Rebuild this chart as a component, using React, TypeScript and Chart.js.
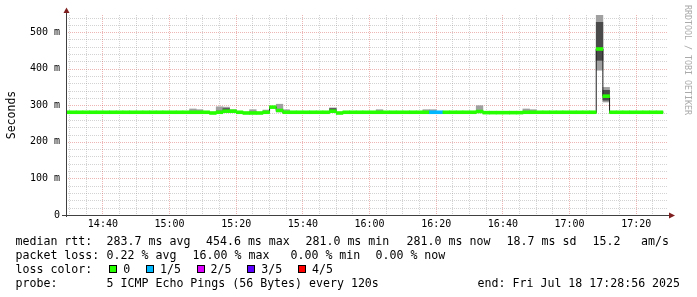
import React, { useEffect, useRef } from "react";
import { Chart, registerables } from "chart.js";

Chart.register(...registerables);

// ---------- data ----------
// end time of each 120 s SmokePing interval
const intervalEnds = [
  "14:30", "14:32", "14:34", "14:36", "14:38", "14:40", "14:42", "14:44", "14:46", "14:48",
  "14:50", "14:52", "14:54", "14:56", "14:58", "15:00", "15:02", "15:04", "15:06", "15:08",
  "15:10", "15:12", "15:14", "15:16", "15:18", "15:20", "15:22", "15:24", "15:26", "15:28",
  "15:30", "15:32", "15:34", "15:36", "15:38", "15:40", "15:42", "15:44", "15:46", "15:48",
  "15:50", "15:52", "15:54", "15:56", "15:58", "16:00", "16:02", "16:04", "16:06", "16:08",
  "16:10", "16:12", "16:14", "16:16", "16:18", "16:20", "16:22", "16:24", "16:26", "16:28",
  "16:30", "16:32", "16:34", "16:36", "16:38", "16:40", "16:42", "16:44", "16:46", "16:48",
  "16:50", "16:52", "16:54", "16:56", "16:58", "17:00", "17:02", "17:04", "17:06", "17:08",
  "17:10", "17:12", "17:14", "17:16", "17:18", "17:20", "17:22", "17:24", "17:26", "17:28",
];

// sorted pings (ms): ping1 = fastest ... ping5 = slowest, medianRtt = middle ping
const ping1 = [
  279, 279, 279, 279, 279, 279, 279, 279, 279, 279,
  279, 279, 279, 279, 279, 279, 279, 279, 279, 279,
  279, 279, 277, 279, 281, 281, 279, 277, 277, 277,
  279, 292, 282, 279, 279, 279, 279, 279, 279, 279,
  281, 277, 279, 279, 279, 279, 279, 279, 279, 279,
  279, 279, 279, 279, 279, 279, 279, 279, 279, 279,
  279, 279, 280, 278, 278, 278, 278, 278, 278, 279,
  279, 279, 279, 279, 279, 279, 279, 279, 279, 279,
  396, 309, 279, 279, 279, 279, 279, 279, 279, 279,
];
const ping2 = [
  280, 280, 280, 280, 280, 280, 280, 280, 280, 280,
  280, 280, 280, 280, 280, 280, 280, 280, 280, 280,
  280, 280, 278, 280, 282, 282, 280, 278, 278, 278,
  280, 294, 284, 280, 280, 280, 280, 280, 280, 280,
  283, 278, 280, 280, 280, 280, 280, 280, 280, 280,
  280, 280, 280, 280, 280, 280, 280, 280, 280, 280,
  280, 280, 281, 279, 279, 279, 279, 279, 279, 280,
  280, 280, 280, 280, 280, 280, 280, 280, 280, 280,
  423, 314, 280, 280, 280, 280, 280, 280, 280, 280,
];
const medianRtt = [
  281, 281, 281, 281, 281, 281, 281, 281, 281, 281,
  281, 281, 281, 281, 281, 281, 281, 281, 281, 281,
  281, 281, 279, 281, 284, 284, 281, 279, 279, 279,
  281, 295, 286, 281, 281, 281, 281, 281, 281, 281,
  284, 279, 281, 281, 281, 281, 281, 281, 281, 281,
  281, 281, 281, 281, 281, 281, 281, 281, 281, 281,
  281, 281, 283, 280, 280, 280, 280, 280, 280, 281,
  281, 281, 281, 281, 281, 281, 281, 281, 281, 281,
  454, 325, 281, 281, 281, 281, 281, 281, 281, 281,
];
const ping4 = [
  282, 282, 282, 282, 282, 282, 282, 282, 282, 282,
  282, 282, 282, 282, 282, 282, 282, 282, 282, 283,
  283, 281, 280, 284, 291, 286, 282, 280, 281, 280,
  282, 296, 288, 282, 282, 282, 282, 282, 282, 282,
  291, 280, 282, 282, 282, 282, 282, 282, 282, 282,
  282, 282, 282, 282, 282, 282, 282, 282, 282, 282,
  282, 282, 286, 281, 281, 281, 281, 281, 281, 283,
  282, 282, 282, 282, 282, 282, 282, 282, 282, 282,
  527, 341, 282, 282, 282, 282, 282, 282, 282, 282,
];
const ping5 = [
  283, 282, 283, 282, 282, 283, 282, 283, 282, 282,
  282, 283, 282, 282, 283, 282, 282, 283, 282, 290,
  288, 282, 281, 296, 295, 288, 283, 281, 288, 281,
  287, 297, 303, 288, 282, 283, 282, 282, 283, 282,
  293, 281, 282, 283, 282, 282, 282, 288, 282, 283,
  282, 282, 283, 282, 288, 288, 283, 282, 282, 282,
  283, 282, 299, 282, 282, 281, 282, 281, 282, 290,
  288, 282, 283, 282, 282, 282, 283, 282, 282, 282,
  547, 349, 282, 283, 282, 282, 283, 282, 282, 283,
];
// number of lost pings (of 5) per interval
const lossCount = [
  0, 0, 0, 0, 0, 0, 0, 0, 0, 0,
  0, 0, 0, 0, 0, 0, 0, 0, 0, 0,
  0, 0, 0, 0, 0, 0, 0, 0, 0, 0,
  0, 0, 0, 0, 0, 0, 0, 0, 0, 0,
  0, 0, 0, 0, 0, 0, 0, 0, 0, 0,
  0, 0, 0, 0, 0, 1, 1, 0, 0, 0,
  0, 0, 0, 0, 0, 0, 0, 0, 0, 0,
  0, 0, 0, 0, 0, 0, 0, 0, 0, 0,
  0, 0, 0, 0, 0, 0, 0, 0, 0, 0,
];

const rangeStart = "14:28:56";
const rangeEnd = "17:28:56";
const xTickLabels = ["14:40", "15:00", "15:20", "15:40", "16:00", "16:20", "16:40", "17:00", "17:20"];
const yTickValues = [0, 100, 200, 300, 400, 500];
const yTickLabels = ["0", "100 m", "200 m", "300 m", "400 m", "500 m"];
const yTitle = "Seconds";

const lossLevelLabels = ["0", "1/5", "2/5", "3/5", "4/5"];
const lossLevelColors = ["#26ff00", "#00b8ff", "#dd00ff", "#5e00ff", "#ff0000"];

const rttTexts = ["median rtt:", "283.7 ms avg", "454.6 ms max", "281.0 ms min", "281.0 ms now", "18.7 ms sd", "15.2", "am/s"];
const lossTexts = ["packet loss:", "0.22 % avg", "16.00 % max", "0.00 % min", "0.00 % now"];
const lossColorTitle = "loss color:";
const probeTexts = ["probe:", "5 ICMP Echo Pings (56 Bytes) every 120s", "end: Fri Jul 18 17:28:56 2025"];
const watermark = "RRDTOOL / TOBI OETIKER";

// ---------- layout / style ----------
const W = 697;
const H = 297;
const STEP_MIN = 2;
const BAND_HALF = 4; // half height (ms) of the loss-coloured median band
const MONO = '"DejaVu Sans Mono"';
const rttX = [15.5, 106.6, 206, 305.5, 406.6, 506.6, 592.6, 641];
const lossX = [15.5, 106.6, 192.6, 290.5, 375.5];
const swatchX = [109, 146, 197, 247, 298];
const swatchLabelX = [123.3, 160, 210.6, 261.3, 312];
const probeX = [15.5, 106.6, 477.6];
const lineBaselines = [244.5, 258.5, 272.5, 286.5];

const toMinutes = (t: string) => {
  const [h, m, s = "0"] = t.split(":");
  return Number(h) * 60 + Number(m) + Number(s) / 60;
};

const rrdPlugin = {
  id: "rrdDecor",
  beforeDatasetsDraw(chart: any) {
    const { ctx, chartArea: a, scales } = chart;
    const x = scales.x;
    const y = scales.y;
    ctx.save();
    ctx.lineWidth = 1;
    ctx.setLineDash([1, 1]);
    const minor = "rgba(140,140,140,0.38)";
    const major = "rgba(210,60,60,0.38)";
    // horizontal grid every 20 ms, major every 100 ms
    for (let v = 20; v <= y.max; v += 20) {
      const py = Math.round(y.getPixelForValue(v)) + 0.5;
      ctx.strokeStyle = v % 100 === 0 ? major : minor;
      ctx.beginPath();
      ctx.moveTo(a.left, py);
      ctx.lineTo(a.right + 2, py);
      ctx.stroke();
    }
    // vertical grid every 5 min, major every 20 min
    for (let m = Math.ceil(x.min / 5) * 5; m <= x.max; m += 5) {
      const px = Math.floor(x.getPixelForValue(m)) + 0.5;
      ctx.strokeStyle = m % 20 === 0 ? major : minor;
      ctx.beginPath();
      ctx.moveTo(px, a.top);
      ctx.lineTo(px, a.bottom);
      ctx.stroke();
    }
    ctx.restore();
  },
  afterDatasetsDraw(chart: any) {
    const { ctx, chartArea: a } = chart;
    ctx.save();
    ctx.strokeStyle = "#404040";
    ctx.lineWidth = 1;
    ctx.beginPath();
    ctx.moveTo(a.left - 4, a.bottom + 0.5);
    ctx.lineTo(a.right + 4, a.bottom + 0.5);
    ctx.moveTo(a.left + 0.5, a.bottom + 2);
    ctx.lineTo(a.left + 0.5, a.top - 2);
    ctx.stroke();
    ctx.fillStyle = "#7f1f1f";
    ctx.beginPath();
    ctx.moveTo(a.left + 0.5, a.top - 7.5);
    ctx.lineTo(a.left - 2.5, a.top - 2);
    ctx.lineTo(a.left + 3.5, a.top - 2);
    ctx.closePath();
    ctx.fill();
    ctx.beginPath();
    ctx.moveTo(a.right + 9, a.bottom + 0.5);
    ctx.lineTo(a.right + 3, a.bottom - 2.5);
    ctx.lineTo(a.right + 3, a.bottom + 3.5);
    ctx.closePath();
    ctx.fill();
    ctx.restore();
  },
  afterDraw(chart: any) {
    const { ctx } = chart;
    ctx.save();
    ctx.fillStyle = "#000";
    ctx.textBaseline = "alphabetic";
    ctx.textAlign = "left";
    ctx.font = `11.6px ${MONO}`;
    rttTexts.forEach((t, i) => ctx.fillText(t, rttX[i], lineBaselines[0]));
    lossTexts.forEach((t, i) => ctx.fillText(t, lossX[i], lineBaselines[1]));
    ctx.fillText(lossColorTitle, rttX[0], lineBaselines[2]);
    lossLevelLabels.forEach((t, i) => {
      ctx.fillStyle = lossLevelColors[i];
      ctx.fillRect(swatchX[i], lineBaselines[2] - 7.5, 8, 8);
      ctx.strokeStyle = "#000";
      ctx.lineWidth = 1;
      ctx.strokeRect(swatchX[i] + 0.5, lineBaselines[2] - 7, 7, 7);
      ctx.fillStyle = "#000";
      ctx.fillText(t, swatchLabelX[i], lineBaselines[2]);
    });
    probeTexts.forEach((t, i) => ctx.fillText(t, probeX[i], lineBaselines[3]));
    // watermark
    ctx.translate(687.5, 5);
    ctx.rotate(Math.PI / 2);
    ctx.font = `8.3px ${MONO}`;
    ctx.fillStyle = "#aaaaaa";
    ctx.textBaseline = "middle";
    ctx.fillText(watermark, 0, 0);
    ctx.restore();
  },
};

export default function App() {
  const ref = useRef<HTMLCanvasElement>(null);

  useEffect(() => {
    const canvas = ref.current;
    if (!canvas) return;
    Chart.defaults.font.family = MONO;

    const centers = intervalEnds.map((t) => toMinutes(t) - STEP_MIN / 2);
    const starts = intervalEnds.map((t) => toMinutes(t) - STEP_MIN);

    const outerSmoke = centers.map((c, i) => ({ x: c, y: [ping1[i], ping5[i]] }));
    const innerSmoke = centers.map((c, i) => ({ x: c, y: [ping2[i], ping4[i]] }));
    const band = centers.map((c, i) => ({ x: c, y: [medianRtt[i] - BAND_HALF, medianRtt[i] + BAND_HALF] }));
    const medianLine = starts.map((s, i) => ({ x: s, y: medianRtt[i] }));
    medianLine.push({ x: toMinutes(intervalEnds[intervalEnds.length - 1]), y: medianRtt[medianRtt.length - 1] });

    const barCommon = {
      type: "bar" as const,
      grouped: false,
      barPercentage: 1,
      categoryPercentage: 1,
      borderWidth: 0,
      clip: 0,
    };

    const chart = new Chart(canvas, {
      type: "bar",
      data: {
        datasets: [
          {
            ...barCommon,
            label: "median",
            data: band as any,
            backgroundColor: lossCount.map((l) => lossLevelColors[l]),
            order: 1,
          },
          {
            type: "line",
            label: "median line",
            data: medianLine as any,
            borderColor: "#202020",
            borderWidth: 1,
            pointRadius: 0,
            stepped: true,
            fill: false,
            order: 2,
          } as any,
          {
            ...barCommon,
            label: "inner smoke",
            data: innerSmoke as any,
            backgroundColor: "#4a4a4a",
            order: 3,
          },
          {
            ...barCommon,
            label: "outer smoke",
            data: outerSmoke as any,
            backgroundColor: "#a0a0a0",
            order: 4,
          },
        ] as any,
      },
      options: {
        responsive: false,
        animation: false,
        devicePixelRatio: 1,
        events: [],
        layout: { padding: { top: 15, right: 31, bottom: 0, left: 0 } },
        plugins: { legend: { display: false }, tooltip: { enabled: false }, title: { display: false } },
        scales: {
          x: {
            type: "linear",
            offset: false,
            min: toMinutes(rangeStart),
            max: toMinutes(rangeEnd),
            afterBuildTicks: (s: any) => {
              s.ticks = xTickLabels.map((l) => ({ value: toMinutes(l) }));
            },
            afterFit: (s: any) => {
              s.height = H - 215;
            },
            grid: { display: false, drawTicks: false, offset: false },
            border: { display: false },
            ticks: {
              autoSkip: false,
              maxRotation: 0,
              minRotation: 0,
              padding: 3,
              color: "#000",
              font: { family: MONO, size: 10 },
              callback: (_v: any, i: number) => xTickLabels[i],
            },
          },
          y: {
            type: "linear",
            min: 0,
            max: Math.max(...ping5),
            afterBuildTicks: (s: any) => {
              s.ticks = yTickValues.map((v) => ({ value: v }));
            },
            afterFit: (s: any) => {
              s.width = 66;
            },
            grid: { display: false, drawTicks: false },
            border: { display: false },
            title: {
              display: true,
              text: yTitle,
              color: "#000",
              font: { family: MONO, size: 11.5 },
              padding: { top: 5, bottom: 0 },
            },
            ticks: {
              padding: 6,
              color: "#000",
              font: { family: MONO, size: 10 },
              callback: (_v: any, i: number) => yTickLabels[i],
            },
          },
        },
      } as any,
      plugins: [rrdPlugin],
    });

    return () => chart.destroy();
  }, []);

  return (
    <div style={{ position: "absolute", left: 0, top: 0, width: W, height: H, background: "#fff" }}>
      <canvas ref={ref} width={W} height={H} style={{ display: "block" }} />
    </div>
  );
}
